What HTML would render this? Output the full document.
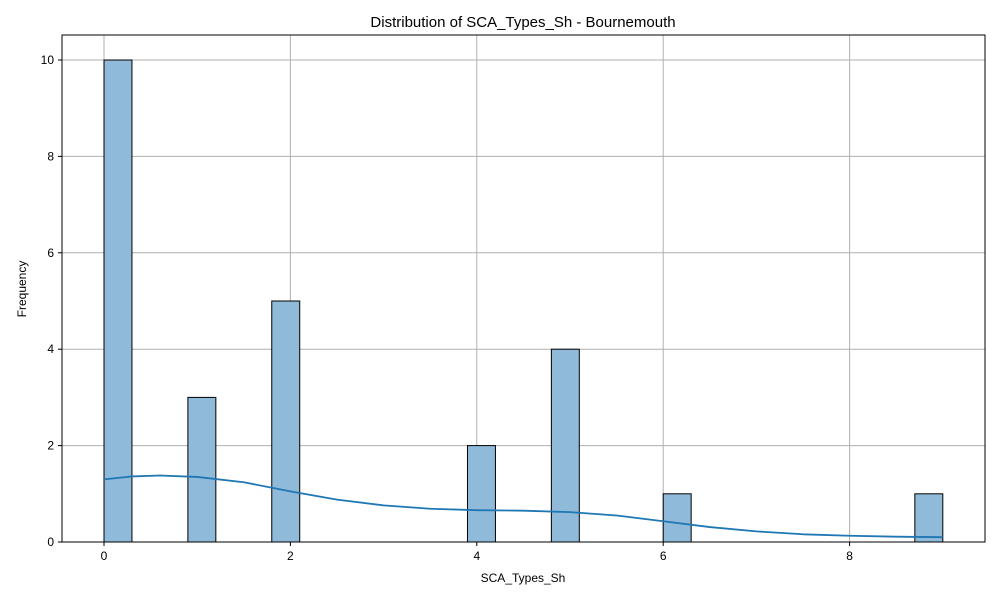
<!DOCTYPE html>
<html><head><meta charset="utf-8"><style>
body{margin:0;background:#fff;}
svg text{font-family:"Liberation Sans","DejaVu Sans",sans-serif;}
</style></head><body>
<svg id="chart" width="1000" height="600" xmlns="http://www.w3.org/2000/svg">
<rect width="1000" height="600" fill="#fff"/>
<g id="grid"></g>
<g id="bars"></g>
<g id="kde"></g>
<rect x="62" y="35" width="923" height="507" fill="none" stroke="#000" stroke-width="1"/>
<g id="axes"></g>
<text x="523" y="27" font-size="15" text-anchor="middle">Distribution of SCA_Types_Sh - Bournemouth</text>
<text x="523" y="582" font-size="12" text-anchor="middle">SCA_Types_Sh</text>
<text x="26" y="289" font-size="12" text-anchor="middle" transform="rotate(-90 26 289)">Frequency</text>
</svg>
<script>
const binStarts=[0,0.9,1.8,3.9,4.8,6.0,8.7];
const binCounts=[10,3,5,2,4,1,1];
const binWidth=0.3;
const kdeX=[0,0.3,0.6,1,1.5,2,2.5,3,3.5,4,4.5,5,5.5,6,6.5,7,7.5,8,8.5,9];
const kdeY=[1.3,1.36,1.38,1.35,1.24,1.05,0.88,0.76,0.69,0.66,0.65,0.62,0.55,0.43,0.31,0.22,0.16,0.13,0.11,0.1];
const xTicks=[0,2,4,6,8];
const yTicks=[0,2,4,6,8,10];
const NS="http://www.w3.org/2000/svg";
function sx(v){return 104+v*93.2;}
function sy(v){return 542-v*48.2;}
function mk(tag,attrs,parent){const e=document.createElementNS(NS,tag);for(const k in attrs)e.setAttribute(k,attrs[k]);parent.appendChild(e);return e;}
const grid=document.getElementById('grid'),axes=document.getElementById('axes'),bars=document.getElementById('bars'),kde=document.getElementById('kde');
xTicks.forEach(t=>{
 const l=mk('line',{x1:sx(t),x2:sx(t),y1:35,y2:542,stroke:'#b0b0b0','stroke-width':1},grid);
 
 
 mk('line',{x1:sx(t),x2:sx(t),y1:542,y2:546,stroke:'#000'},axes);
 const tx=mk('text',{x:sx(t),y:560,'font-size':12,'text-anchor':'middle'},axes);tx.textContent=t;
 
 
});
yTicks.forEach(t=>{
 const l=mk('line',{x1:62,x2:985,y1:sy(t),y2:sy(t),stroke:'#b0b0b0','stroke-width':1},grid);
 
 
 mk('line',{x1:58,x2:62,y1:sy(t),y2:sy(t),stroke:'#000'},axes);
 const tx=mk('text',{x:54,y:sy(t)+4,'font-size':12,'text-anchor':'end'},axes);tx.textContent=t;
 
 
});
binStarts.forEach((s,i)=>{
 const r=mk('rect',{x:sx(s),y:sy(binCounts[i]),width:sx(s+binWidth)-sx(s),height:sy(0)-sy(binCounts[i]),fill:'#8fbad9',stroke:'#000','stroke-width':1},bars);
 
 
});
let d='';kdeX.forEach((x,i)=>{d+=(i?' L':'M')+sx(x)+' '+sy(kdeY[i]);});
const p=mk('path',{d:d,fill:'none',stroke:'#1f77b4','stroke-width':1.8,'stroke-linejoin':'round'},kde);


</script>
</body></html>
